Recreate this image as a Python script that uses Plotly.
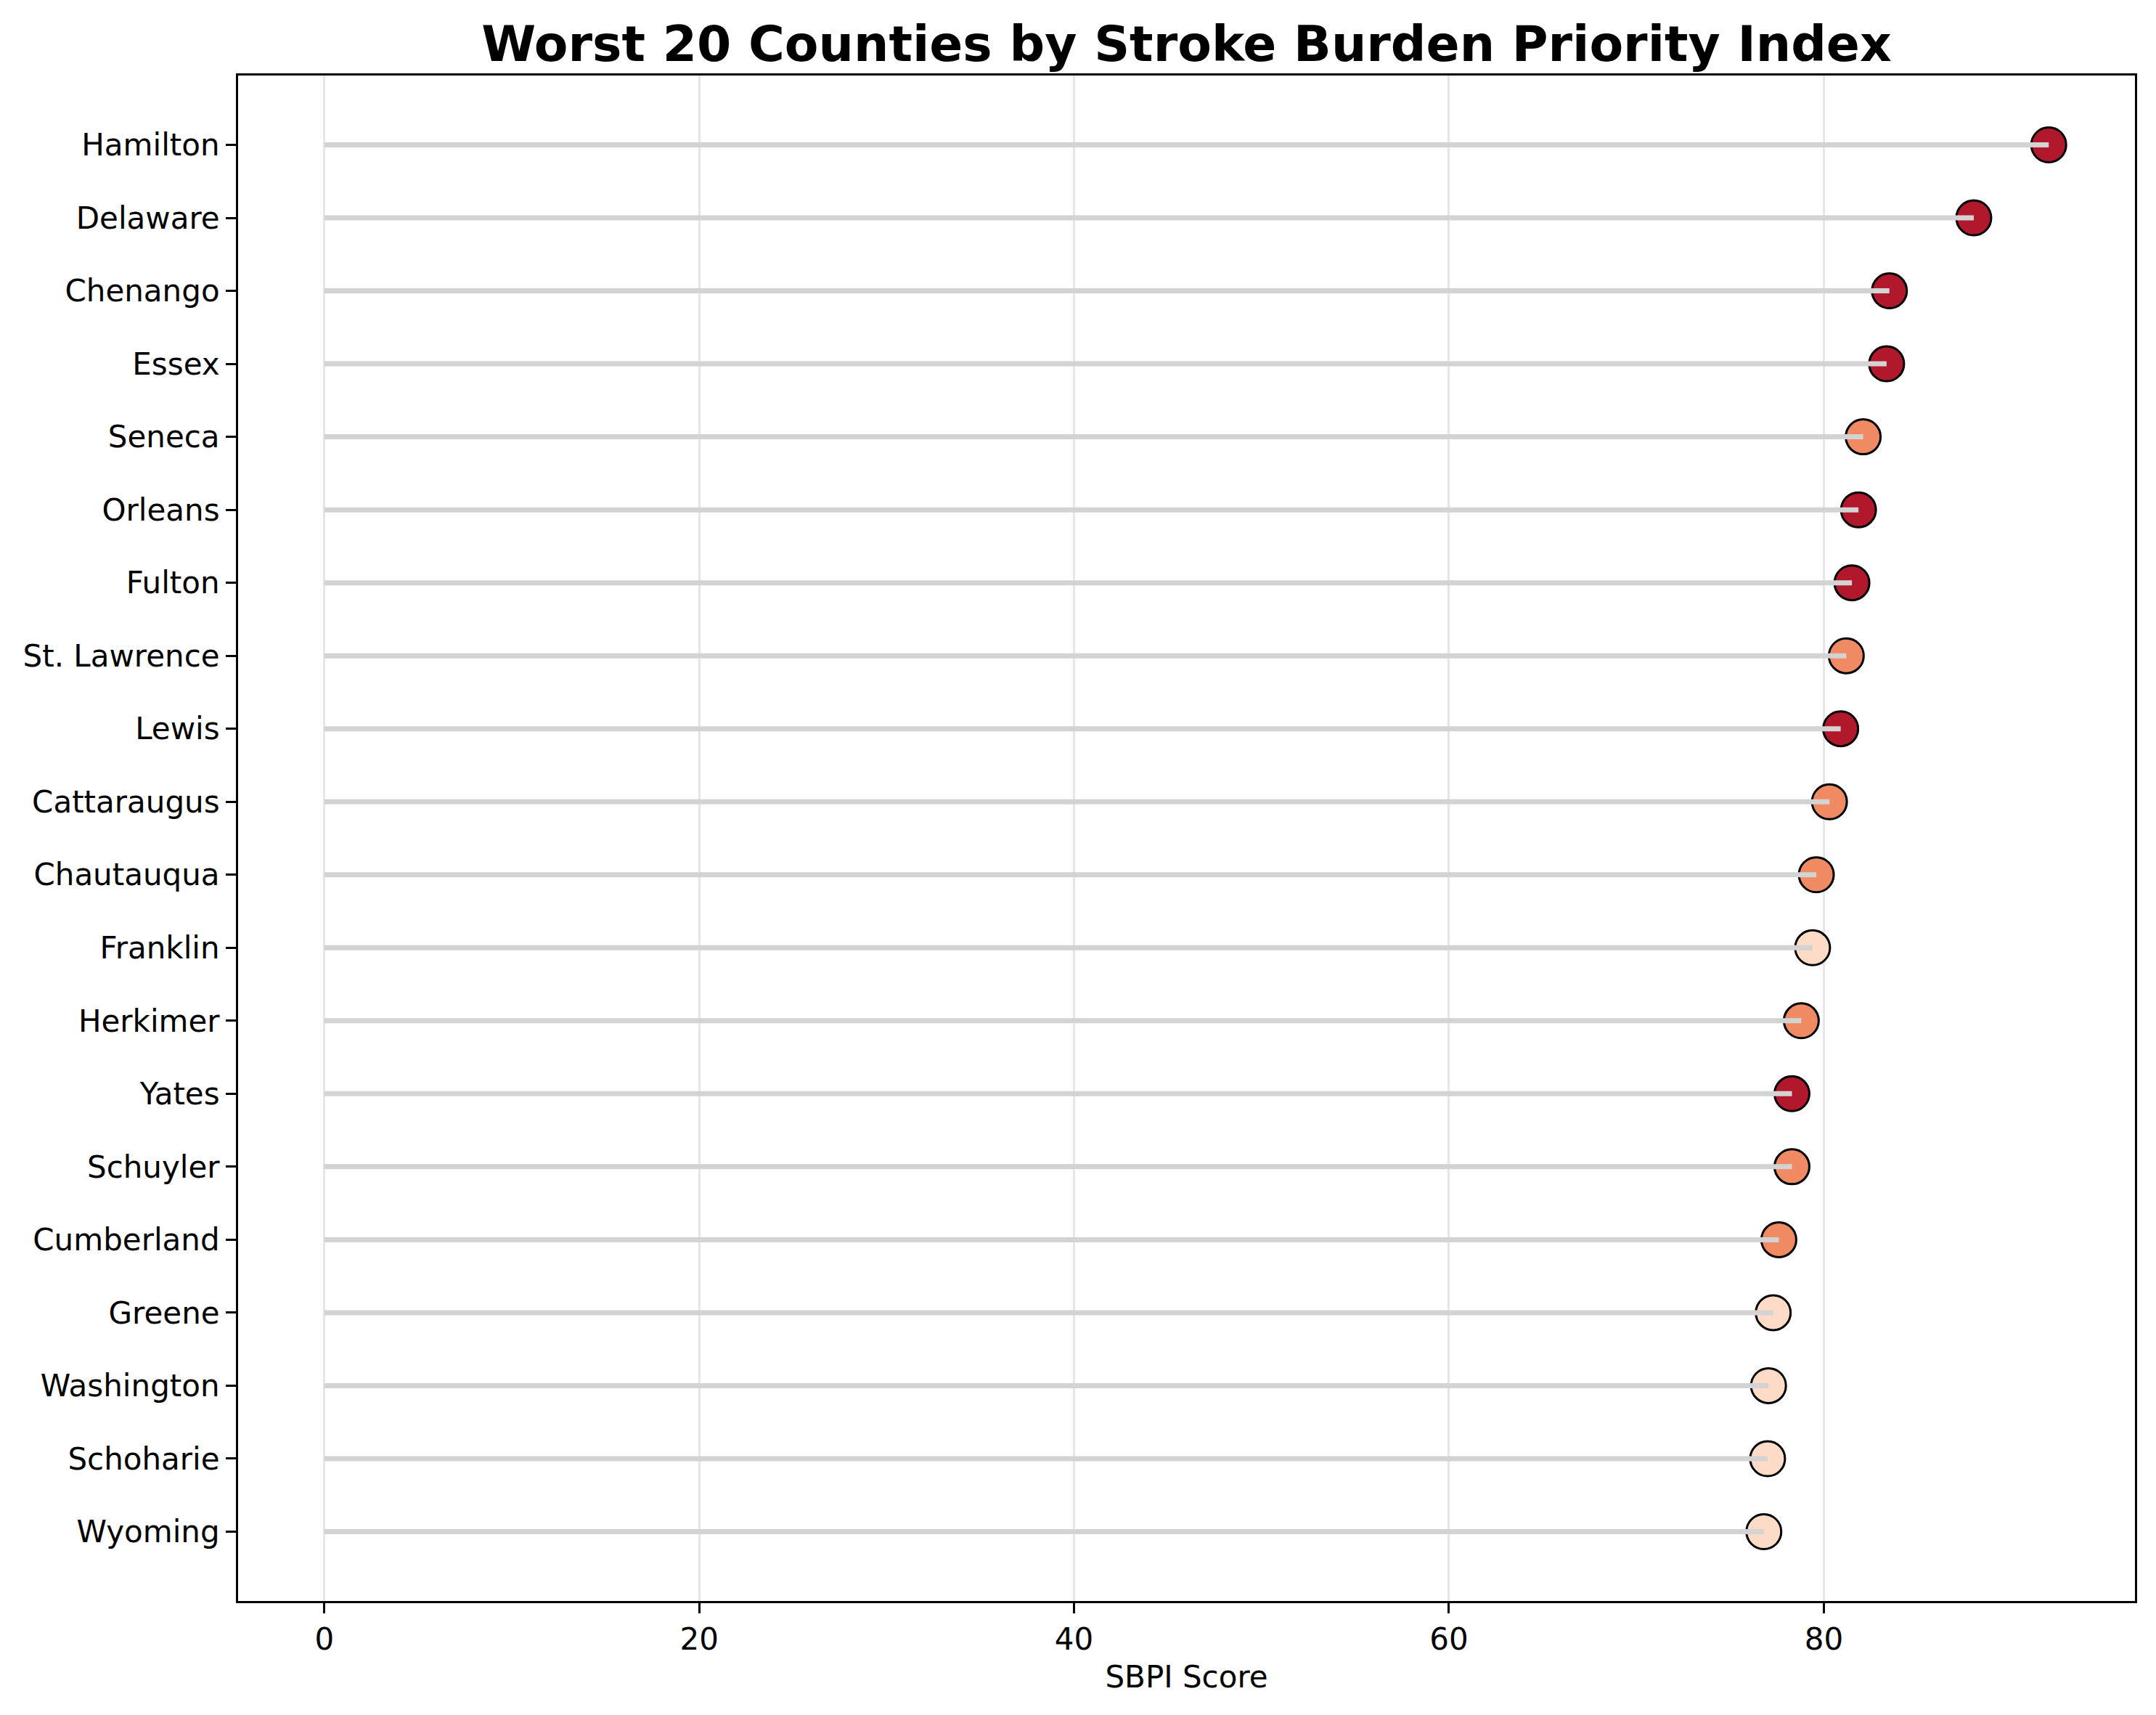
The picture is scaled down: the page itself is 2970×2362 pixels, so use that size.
import plotly.graph_objects as go

# Worst 20 counties, top to bottom
counties = [
    'Hamilton', 'Delaware', 'Chenango', 'Essex', 'Seneca', 'Orleans', 'Fulton',
    'St. Lawrence', 'Lewis', 'Cattaraugus', 'Chautauqua', 'Franklin', 'Herkimer',
    'Yates', 'Schuyler', 'Cumberland', 'Greene', 'Washington', 'Schoharie', 'Wyoming'
]
sbpi = [
    92.0, 88.0, 83.5, 83.35, 82.1, 81.85, 81.5,
    81.2, 80.9, 80.3, 79.6, 79.4, 78.8,
    78.3, 78.3, 77.6, 77.3, 77.05, 77.0, 76.8
]
tier = [
    'High', 'High', 'High', 'High', 'Medium', 'High', 'High',
    'Medium', 'High', 'Medium', 'Medium', 'Low', 'Medium',
    'High', 'Medium', 'Medium', 'Low', 'Low', 'Low', 'Low'
]

TIER_COLORS = {'High': '#b2182b', 'Medium': '#ef8a62', 'Low': '#fddbc7'}

FONT = 'DejaVu Sans'

fig = go.Figure()

# dots first, stems drawn over them like the original
fig.add_trace(go.Scatter(
    x=sbpi,
    y=counties,
    mode='markers',
    marker=dict(
        size=48,
        color=[TIER_COLORS[t] for t in tier],
        line=dict(width=3, color='black')
    ),
    showlegend=False
))

stem_x = []
stem_y = []
for name, val in zip(counties, sbpi):
    stem_x += [0, val, None]
    stem_y += [name, name, None]

fig.add_trace(go.Scatter(
    x=stem_x,
    y=stem_y,
    mode='lines',
    line=dict(color='#d3d3d3', width=7),
    showlegend=False
))

fig.update_xaxes(
    range=[-4.6, 96.6],
    tickvals=[0, 20, 40, 60, 80],
    showgrid=True,
    gridcolor='#e6e6e6',
    gridwidth=3,
    zeroline=False,
    showline=True,
    mirror=True,
    linecolor='black',
    linewidth=3,
    ticks='outside',
    ticklen=14,
    tickwidth=3,
    tickcolor='black',
    tickfont=dict(family=FONT, size=42, color='black'),
    title=dict(text='SBPI Score', font=dict(family=FONT, size=42, color='black'), standoff=14)
)

fig.update_yaxes(
    categoryorder='array',
    categoryarray=counties,
    range=[19.95, -0.95],
    showgrid=False,
    zeroline=False,
    showline=True,
    mirror=True,
    linecolor='black',
    linewidth=3,
    ticks='outside',
    ticklen=14,
    tickwidth=3,
    tickcolor='black',
    tickfont=dict(family=FONT, size=42, color='black')
)

fig.update_layout(
    width=2970,
    height=2362,
    margin=dict(l=320, r=37, t=96, b=165),
    plot_bgcolor='white',
    paper_bgcolor='white',
    title=dict(
        text='<b>Worst 20 Counties by Stroke Burden Priority Index</b>',
        font=dict(family=FONT, size=68, color='black'),
        x=0.5,
        xref='paper',
        xanchor='center',
        y=1 - 52 / 2362,
        yref='container',
        yanchor='middle'
    )
)

fig.write_html('out.html')
